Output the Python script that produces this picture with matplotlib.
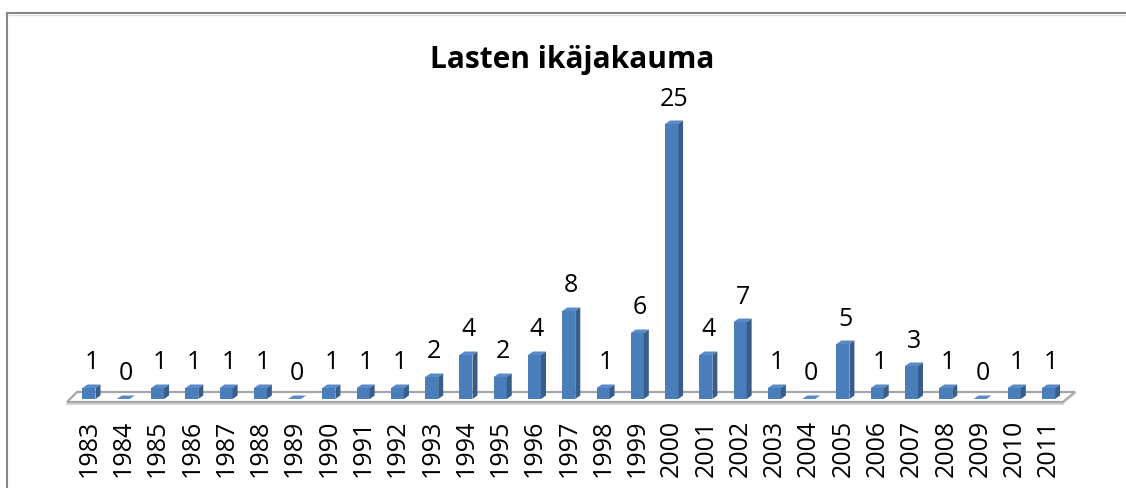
import matplotlib
matplotlib.use("Agg")
import matplotlib.pyplot as plt
from matplotlib.patches import Polygon
from matplotlib.lines import Line2D

years = [str(y) for y in range(1983, 2012)]
counts = [1, 0, 1, 1, 1, 1, 0, 1, 1, 1, 2, 4, 2, 4, 8, 1, 6, 25, 4, 7, 1, 0, 5, 1, 3, 1, 0, 1, 1]
title = "Lasten ikäjakauma"

W, H = 1126, 489
fig = plt.figure(figsize=(W / 100, H / 100), dpi=100)
ax = fig.add_axes([0, 0, 1, 1])

# pixel mapping: index i -> x px = 89 + 34.27*i ; value v -> y px from top = 400 - 11*v
sx = 34.27
sy = 11.0
x0 = 89.0
base = 400.0
ax.set_xlim(-x0 / sx, (W - x0) / sx)
ax.set_ylim(-(H - base) / sy, base / sy)
ax.axis("off")

bw = 13.0 / sx          # front face width
dx = 5.0 / sx           # depth offset x
dy = 3.5 / sy           # depth offset y

front_c = "#4A7EBB"
side_c = "#385D8A"
top_c = "#5A8BC8"
floor_c = "#A6A6A6"

# floor (thin slab)
n = len(counts)
fl_front_y = -3.0 / sy
fl_back_y = 7.0 / sy
fxl, fxr = (67 - x0) / sx, (1063 - x0) / sx
bxl, bxr = (77 - x0) / sx, (1075 - x0) / sx
floor = Polygon([(fxl, fl_front_y), (fxr, fl_front_y), (bxr, fl_back_y), (bxl, fl_back_y)],
                closed=True, facecolor="white", edgecolor=floor_c, lw=1.6, zorder=1)
ax.add_patch(floor)
ax.plot([fxl, fxr], [fl_front_y - 1.5 / sy] * 2, color="#C8C8C8", lw=1.2, zorder=1)
ax.plot([fxr, bxr], [fl_front_y - 1.5 / sy, fl_back_y - 1.5 / sy], color="#C8C8C8", lw=1.0, zorder=1)

xs = list(range(n))
bars = ax.bar(xs, counts, width=bw, bottom=0, color=front_c, edgecolor="none", zorder=3)
for i, v in zip(xs, counts):
    l, r = i - bw / 2, i + bw / 2
    top = Polygon([(l, v), (r, v), (r + dx, v + dy), (l + dx, v + dy)], closed=True,
                  facecolor=top_c, edgecolor="none", zorder=3)
    ax.add_patch(top)
    if v > 0:
        side = Polygon([(r, 0), (r + dx, dy), (r + dx, v + dy), (r, v)], closed=True,
                       facecolor=side_c, edgecolor="none", zorder=3)
        ax.add_patch(side)
    ax.annotate(str(v), xy=(i + dx / 2, v + dy), xytext=(0, 16 * 0.72), textcoords="offset points",
                ha="center", va="baseline", fontsize=18, family="Open Sans", color="black", zorder=5)

# category labels
for i, lab in zip(xs, years):
    ax.text(i, -(420 - base) / sy, lab, rotation=90, ha="center", va="top",
            fontsize=18, family="Open Sans", color="black")

# title
fig.text(572 / W, 1 - 68 / H, title, ha="center", va="baseline", fontsize=21.5,
         family="Open Sans", fontweight="bold", color="black")

# chart border (left and top visible)
fig.add_artist(Line2D([7 / W, 7 / W], [0, 1 - 14 / H], color="#888888", lw=1.5, transform=fig.transFigure))
fig.add_artist(Line2D([7 / W, 1], [1 - 14 / H, 1 - 14 / H], color="#888888", lw=1.5, transform=fig.transFigure))
fig.add_artist(Line2D([8.5 / W, 1], [1 - 15.8 / H, 1 - 15.8 / H], color="#DDDDDD", lw=1.0, transform=fig.transFigure))

fig.savefig("out.png", dpi=100)
